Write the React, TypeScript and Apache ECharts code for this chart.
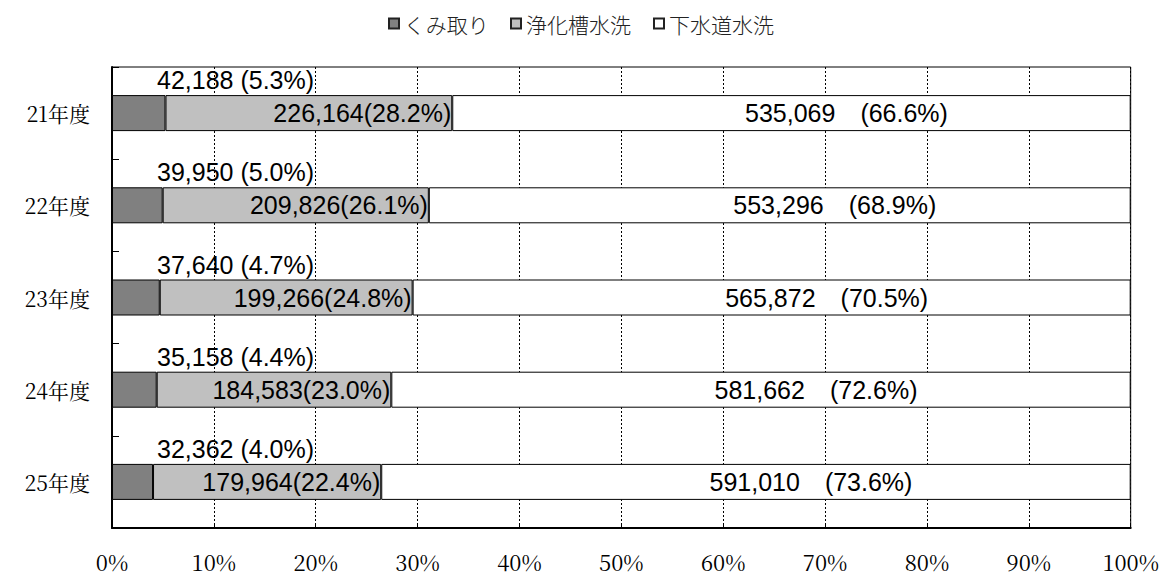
import React, { useEffect, useRef } from "react";
import * as echarts from "echarts";

const categories = ["21年度", "22年度", "23年度", "24年度", "25年度"];
const kumitori = [42188, 39950, 37640, 35158, 32362];
const joukasou = [226164, 209826, 199266, 184583, 179964];
const gesuido = [535069, 553296, 565872, 581662, 591010];
const seriesNames = ["くみ取り", "浄化槽水洗", "下水道水洗"];
const xTicks = [0, 10, 20, 30, 40, 50, 60, 70, 80, 90, 100];

const totals = categories.map((_, i) => kumitori[i] + joukasou[i] + gesuido[i]);
const pct = (arr: number[]) => arr.map((v, i) => (v / totals[i]) * 100);
const fmt = (v: number) => v.toLocaleString("en-US");

const LABEL_FONT = "'Liberation Sans', 'Noto Sans CJK JP', sans-serif";
const SERIF_FONT = "'Noto Serif CJK JP', 'Liberation Serif', 'Noto Sans CJK JP', serif";

export default function App() {
  const ref = useRef<HTMLDivElement>(null);
  useEffect(() => {
    if (!ref.current) return;
    const chart = echarts.init(ref.current, null, { renderer: "svg" });
    const raw = [kumitori, joukasou, gesuido];
    const colors = ["#808080", "#c0c0c0", "#ffffff"];
    const labelCfg: any[] = [
      {
        show: true,
        position: [45, -15],
        align: "left",
        verticalAlign: "middle",
        fontSize: 25,
        fontFamily: LABEL_FONT,
        color: "#000",
        formatter: (p: any) => `${fmt(kumitori[p.dataIndex])} (${p.value.toFixed(1)}%)`,
      },
      {
        show: true,
        position: "insideRight",
        distance: 1,
        fontSize: 25,
        fontFamily: LABEL_FONT,
        color: "#000",
        formatter: (p: any) => `${fmt(joukasou[p.dataIndex])}(${p.value.toFixed(1)}%)`,
      },
      {
        show: true,
        position: "inside",
        offset: [55, 0],
        fontSize: 25,
        fontFamily: LABEL_FONT,
        color: "#000",
        formatter: (p: any) => `${fmt(gesuido[p.dataIndex])}　(${p.value.toFixed(1)}%)`,
      },
    ];
    chart.setOption({
      animation: false,
      backgroundColor: "#fff",
      legend: {
        top: 8,
        left: "center",
        itemWidth: 10,
        itemHeight: 10,
        itemGap: 22,
        icon: "rect",
        textStyle: { fontSize: 21, fontFamily: "'Noto Sans CJK JP', sans-serif", fontWeight: 300, color: "#222" },
        data: seriesNames.map((n, i) => ({
          name: n,
          itemStyle: { color: colors[i], borderColor: "#222", borderWidth: 2 },
        })),
      },
      grid: {
        left: 112,
        right: 30,
        top: 67,
        bottom: 48,
        show: true,
        borderColor: "#000",
        borderWidth: 1,
      },
      xAxis: {
        type: "value",
        min: xTicks[0],
        max: xTicks[xTicks.length - 1],
        interval: 10,
        axisLine: { show: true, lineStyle: { color: "#000", width: 2 } },
        axisTick: { show: true, inside: true, length: 4, lineStyle: { color: "#000" } },
        splitLine: { show: true, lineStyle: { color: "#000", type: [2, 2], width: 1 } },
        axisLabel: {
          formatter: "{value}%",
          fontSize: 22,
          lineHeight: 22,
          fontFamily: SERIF_FONT,
          color: "#000",
          margin: 22,
        },
      },
      yAxis: {
        type: "category",
        inverse: true,
        data: categories,
        axisLine: { show: true, lineStyle: { color: "#000", width: 2 } },
        axisTick: { show: true, inside: true, length: 7, lineStyle: { color: "#000" } },
        axisLabel: {
          fontSize: 21,
          fontFamily: SERIF_FONT,
          color: "#000",
          margin: 22,
        },
      },
      series: raw.map((arr, i) => ({
        name: seriesNames[i],
        type: "bar",
        stack: "total",
        barWidth: 36,
        data: pct(arr),
        itemStyle: { color: colors[i], borderColor: "#000", borderWidth: 1 },
        label: labelCfg[i],
        emphasis: { disabled: true },
      })),
    });
    return () => chart.dispose();
  }, []);
  return (
    <div
      ref={ref}
      style={{ position: "fixed", left: 0, top: 0, width: 1162, height: 576 }}
    />
  );
}
